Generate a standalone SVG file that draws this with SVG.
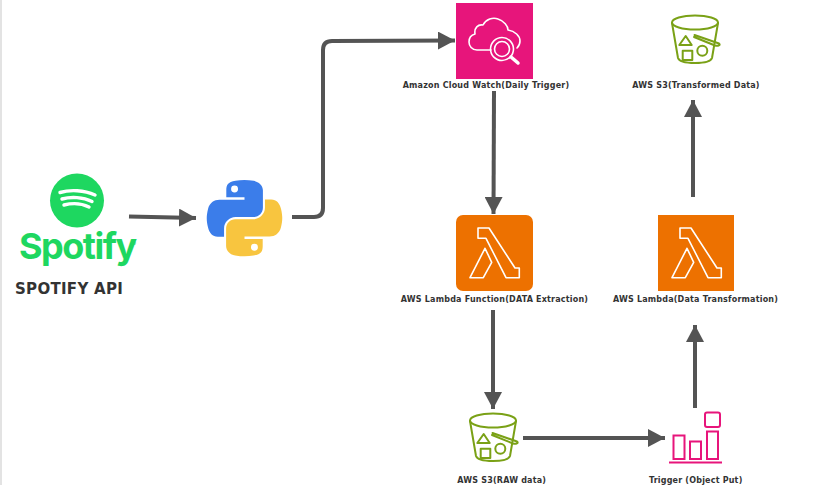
<svg xmlns="http://www.w3.org/2000/svg" xmlns:xlink="http://www.w3.org/1999/xlink" width="826" height="485" viewBox="0 0 826 485">
<style>
.lbl{font-family:"DejaVu Sans",Verdana,sans-serif;font-weight:700;font-size:8px;fill:#333;text-anchor:middle;letter-spacing:.2px}
.conn{fill:none;stroke:#545454;stroke-width:4;marker-end:url(#ah)}
.gl{fill:none;stroke:#fff;stroke-width:1.6;stroke-linejoin:round;stroke-linecap:round}
.bk{fill:none;stroke:#7aa116;stroke-width:2;stroke-linejoin:round;stroke-linecap:round}
.tr{fill:none;stroke:#e7157b;stroke-width:2}
</style>
<defs>
<marker id="ah" markerUnits="userSpaceOnUse" markerWidth="17" markerHeight="18" refX="17" refY="9" orient="auto"><path d="M0 0L17 9L0 18Z" fill="#545454"/></marker>
<g id="lam"><path class="gl" d="M22 13H33L59 53H63.3V62.7H50L30 23.3H22Z"/><path class="gl" d="M29 33.3L14 62.7H27.3L35.7 47.3Z"/></g>
<g id="bucket"><ellipse class="bk" cx="695" cy="22.5" rx="23" ry="7"/><path class="bk" d="M672 23L678 58C679 61.500 687 63 695 63C703 63 711 61.500 712 58L718 23"/><path class="bk" d="M694.500 35L719 43.500C721 45 718 46.500 715 45.500L694 37"/><path class="bk" d="M685.700 36L679.300 45H691.700Z"/><rect class="bk" x="682.700" y="50.700" width="9.600" height="9.300"/><circle class="bk" cx="702.300" cy="50.700" r="5"/></g>
</defs>
<rect width="826" height="485" fill="#fff"/>
<rect width="2" height="485" fill="#e3e3e3"/>
<g id="connectors">
<path class="conn" d="M129 216.500L196 218"/>
<path class="conn" d="M292 217H314Q323 217 323 208V50Q323 41 332 41L455 40.500"/>
<path class="conn" d="M494 91L493.500 214"/>
<path class="conn" d="M493 310V409"/>
<path class="conn" d="M523 438H665"/>
<path class="conn" d="M695 408V325"/>
<path class="conn" d="M693 197V100"/>
</g>
<g id="spotify">
<circle cx="77" cy="200.500" r="27" fill="#1ed760"/>
<path d="M60 192.500C70 189.500 84 190 95 195M62 199C71 196.500 83 197 92 201.500M64 205C72 203 82 203.500 89 207" fill="none" stroke="#fff" stroke-width="3.400" stroke-linecap="round"/>
<text x="19" y="259" font-family="Inter,Lato,sans-serif" font-weight="700" font-size="36" letter-spacing="-1.500" fill="#1ed760">Spotify</text>
<text x="132" y="246" font-family="Inter,sans-serif" font-size="6" fill="#1ed760">®</text>
<text x="15" y="294" font-family="'DejaVu Sans',sans-serif" font-weight="700" font-size="15" letter-spacing=".3" fill="#333">SPOTIFY API</text>
</g>
<g id="python" transform="translate(206 180) scale(.7)">
<path fill="#3b7dea" d="M54.900 0C50.300 0 46 .4 42.200 1.100C31 3.100 29 7.200 29 14.800V24.800H55V28.200H19.200C11.600 28.200 5 32.700 2.900 41.400C.5 51.400 .4 57.600 2.900 68C4.800 75.700 9.200 81.200 16.800 81.200H25.800V69.200C25.800 60.600 33.300 53 42.200 53H68.200C75.500 53 81.300 47 81.300 39.700V14.800C81.300 7.700 75.300 2.400 68.200 1.200C63.700 .4 59 0 54.900 0ZM40.800 8A4.900 4.900 0 1 1 40.800 17.900A4.900 4.900 0 1 1 40.800 8Z"/>
<path fill="#f8c53f" transform="rotate(180 55 54.500)" d="M54.900 0C50.300 0 46 .4 42.200 1.100C31 3.100 29 7.200 29 14.800V24.800H55V28.200H19.200C11.600 28.200 5 32.700 2.900 41.400C.5 51.400 .4 57.600 2.900 68C4.800 75.700 9.200 81.200 16.800 81.200H25.800V69.200C25.800 60.600 33.300 53 42.200 53H68.200C75.500 53 81.300 47 81.300 39.700V14.800C81.300 7.700 75.300 2.400 68.200 1.200C63.700 .4 59 0 54.900 0ZM40.800 8A4.900 4.900 0 1 1 40.800 17.900A4.900 4.900 0 1 1 40.800 8Z"/>
</g>
<g id="cloudwatch">
<rect x="456" y="3" width="77" height="76" fill="#e7157b"/>
<path class="gl" d="M491 50H477C472 50 469 46 469 42C469 38 471 35 475 34C474 28 478 24 483 25C486 19 493 17 498 19C504 21 508 26 508 30C515 31 520 36 520 41C520 44 519 46 517 48"/>
<circle class="gl" cx="502" cy="49" r="11.500"/><circle class="gl" cx="502" cy="49" r="7.500"/>
<path d="M511 57L518 63" stroke="#fff" stroke-width="3.500" stroke-linecap="round" fill="none"/>
<text class="lbl" x="486" y="88">Amazon Cloud Watch(Daily Trigger)</text>
</g>
<g id="s3-transformed"><use href="#bucket"/><text class="lbl" x="696" y="88">AWS S3(Transformed Data)</text></g>
<g id="lambda-extract">
<rect x="456" y="215" width="77" height="76" rx="7" fill="#ed7100"/>
<use href="#lam" transform="translate(456 215)"/>
<text class="lbl" x="494.500" y="302">AWS Lambda Function(DATA Extraction)</text>
</g>
<g id="lambda-transform">
<rect x="658" y="215" width="76" height="76" fill="#ed7100"/>
<use href="#lam" transform="translate(658 215)"/>
<text class="lbl" x="695.500" y="302">AWS Lambda(Data Transformation)</text>
</g>
<g id="s3-raw"><use href="#bucket" transform="translate(-202 398)"/><text class="lbl" x="501.700" y="483">AWS S3(RAW data)</text></g>
<g id="trigger">
<rect class="tr" x="673.500" y="435.500" width="11" height="23.500"/><rect class="tr" x="690" y="441.500" width="11" height="17.500"/><rect class="tr" x="707" y="431.500" width="11" height="27.500"/><rect class="tr" x="705" y="412.500" width="15" height="14.500" rx="2"/>
<path class="tr" d="M669 462.500H722"/>
<text class="lbl" x="695.700" y="483">Trigger (Object Put)</text>
</g>
</svg>
